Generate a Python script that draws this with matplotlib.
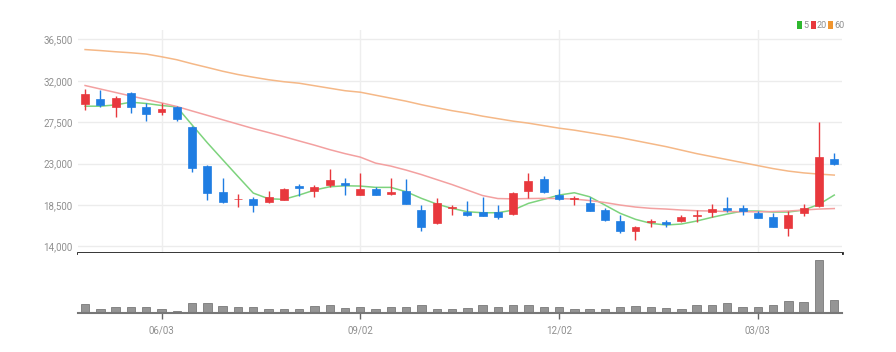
import matplotlib
matplotlib.use("Agg")
import matplotlib.pyplot as plt
from matplotlib.patches import Rectangle
import numpy as np
import datetime as dt

# ---- data (weekly candles) ----
start = dt.date(2024, 4, 29)
dates = [start + dt.timedelta(weeks=i) for i in range(50)]

opens = [29447, 29961, 29158, 30676, 29093, 28616, 29093, 26990, 22729, 19877,
         19118, 19183, 18825, 19042, 20527, 20050, 20668, 20918, 19584, 20202,
         19660, 20050, 17958, 16516, 18142, 17773, 17741, 17708, 17524, 20050,
         21286, 19552, 19118, 18684, 17958, 16798, 15648, 16624, 16657, 16765,
         17307, 17773, 18175, 18142, 17600, 17166, 15973, 17600, 18424, 23455]
highs = [31149, 31045, 30319, 30747, 29592, 29527, 29234, 27065, 22837, 21395,
         19693, 19400, 20050, 20311, 20777, 20636, 22371, 21395, 22002, 20484,
         21395, 21286, 18500, 19226, 18500, 18966, 19335, 18500, 19942, 22002,
         21644, 20202, 19476, 19335, 18142, 17416, 16223, 16949, 16873, 17416,
         17958, 18608, 19335, 18500, 17849, 17600, 17882, 18576, 27532, 24106]
lows = [28873, 29158, 28010, 28443, 27640, 28291, 27640, 22111, 19042, 18749,
        18316, 17708, 18749, 19042, 19476, 19335, 20484, 19584, 19584, 19584,
        19584, 18608, 15713, 16450, 17416, 17307, 17307, 16949, 17450, 19226,
        19768, 19050, 18500, 17882, 16800, 15496, 14705, 16147, 16082, 16700,
        16689, 17166, 17773, 17416, 17123, 16100, 15138, 17307, 18316, 22837]
closes = [30607, 29310, 30134, 29093, 28334, 28942, 27792, 22544, 19768, 18825,
          19183, 18500, 19335, 20235, 20311, 20419, 21210, 20668, 20202, 19584,
          19942, 18608, 16147, 18684, 18283, 17383, 17307, 17231, 19834, 21135,
          19942, 19118, 19226, 17882, 16873, 15713, 16082, 16689, 16440, 17231,
          17416, 18099, 17958, 17882, 17123, 16147, 17416, 18142, 23672, 22913]
volumes = [186, 80, 126, 120, 126, 94, 54, 214, 214, 146,
           120, 120, 94, 86, 94, 146, 160, 100, 126, 80,
           120, 126, 160, 94, 80, 106, 160, 126, 160, 174,
           126, 126, 94, 94, 86, 126, 140, 126, 106, 94,
           160, 160, 206, 134, 126, 166, 254, 226, 1060, 260]  # thousand shares

ma5 = [29234, 29234, 29375, 29668, 29527, 29310, 29158, 27195, 25255, 23423,
       21601, 19800, 19183, 19118, 19584, 20126, 20484, 20592, 20560, 20419,
       20419, 19942, 19226, 18608, 18142, 17773, 17665, 17665, 17958, 18684,
       19118, 19584, 19834, 19400, 18500, 17600, 16949, 16516, 16331, 16440,
       16765, 17166, 17524, 17849, 17849, 17741, 17741, 17958, 18576, 19584]
ma20 = [31479, 31100, 30720, 30340, 29972, 29592, 29200, 28714, 28237, 27760,
        27283, 26806, 26372, 25927, 25461, 25006, 24518, 24084, 23704, 23054,
        22729, 22295, 21807, 21265, 20723, 20126, 19530, 19205, 19172, 19205,
        19226, 19205, 19150, 18988, 18771, 18500, 18283, 18142, 18066, 17958,
        17882, 17849, 17795, 17773, 17762, 17795, 17849, 17958, 18066, 18120]
ma60 = [35383, 35274, 35144, 35035, 34894, 34602, 34277, 33843, 33442, 33030,
        32672, 32380, 32108, 31891, 31729, 31458, 31186, 30915, 30753, 30427,
        30102, 29777, 29397, 29072, 28747, 28476, 28150, 27879, 27608, 27391,
        27120, 26849, 26632, 26361, 26090, 25819, 25494, 25168, 24843, 24464,
        24084, 23759, 23433, 23108, 22783, 22458, 22187, 21991, 21861, 21753]

ytick_values = [14000, 18500, 23000, 27500, 32000, 36500]
xtick_labels = ["06/03", "09/02", "12/02", "03/03"]
legend_labels = ["5", "20", "60"]

# ---- style ----
UP = "#e8383d"
DOWN = "#1f7de2"
MA_COLORS = ["#7dd37d", "#f3a0a0", "#f5b887"]
LEG_COLORS = ["#2fb82f", "#e8383d", "#f0952f"]
TXT = "#8f8f8f"
FONT = ["Roboto", "DejaVu Sans"]

W, H = 896, 352
fig = plt.figure(figsize=(8.96, 3.52), dpi=100)
fig.patch.set_facecolor("white")
ax = fig.add_axes([0.0871, 0.2813, 0.8527, 0.6335])
axv = fig.add_axes([0.0871, 0.1094, 0.8527, 0.1719], sharex=ax)

x = np.arange(len(dates))
o = np.array(opens); c = np.array(closes); h = np.array(highs); l = np.array(lows)
colors = [UP if cc >= oo else DOWN for oo, cc in zip(o, c)]

# gridlines
for v in ytick_values:
    ax.axhline(v, color="#ececec", lw=1.0, zorder=0)
tick_idx = [next(i for i, d in enumerate(dates) if d.strftime("%m/%d") == lab) for lab in xtick_labels]
for ti in tick_idx:
    ax.axvline(ti, color="#eeeeee", lw=1.0, zorder=0)

# MA lines
for ser, col in zip([ma5, ma20, ma60], MA_COLORS):
    ax.plot(x, ser, color=col, lw=1.1, zorder=2)

# candles
ax.vlines(x, l, h, colors=colors, lw=1.0, zorder=3)
body_bottom = np.minimum(o, c)
body_h = np.maximum(np.abs(c - o), 90)
ax.bar(x, body_h, bottom=body_bottom, width=0.52, color=colors, edgecolor=colors, lw=0.5, zorder=4)

ax.set_xlim(-0.46, 49.51)
ax.set_ylim(13295, 37508)
ax.set_yticks(ytick_values)
ax.set_yticklabels([f"{v:,}" for v in ytick_values], fontsize=7, color=TXT, family=FONT)
ax.tick_params(axis="y", length=0, pad=4)
ax.tick_params(axis="x", length=0, labelbottom=False)
for s in ["top", "right", "left"]:
    ax.spines[s].set_visible(False)
ax.spines["bottom"].set_color("#222222")
ax.spines["bottom"].set_linewidth(2.0)

# legend (pixel positions converted to figure fraction)
sq_x = [797, 811, 828]
txt_x = [803, 817, 834]
ly = 25
for sx, tx, lab, col in zip(sq_x, txt_x, legend_labels, LEG_COLORS):
    fig.patches.append(Rectangle((sx / W, 1 - (ly + 3.5) / H), 4.5 / W, 7 / H,
                                 transform=fig.transFigure, color=col, lw=0))
    fig.text(tx / W, 1 - ly / H, lab, color=TXT, fontsize=6.5, ha="left", va="center", family=FONT)

# volume
axv.bar(x, volumes, width=0.55, color="#959595", edgecolor="#7a7a7a", lw=0.6, zorder=2)
axv.set_ylim(0, max(volumes) * 60.5 / 53)
axv.set_yticks([])
for s in ["top", "right", "left"]:
    axv.spines[s].set_visible(False)
axv.spines["bottom"].set_color("#777777")
axv.spines["bottom"].set_linewidth(1.5)
axv.set_xticks(tick_idx)
axv.set_xticklabels(xtick_labels, fontsize=7, color=TXT, family=FONT)
axv.tick_params(axis="x", length=4, width=1, color="#666666", pad=5)

fig.savefig("out.png", dpi=100, facecolor="white")
